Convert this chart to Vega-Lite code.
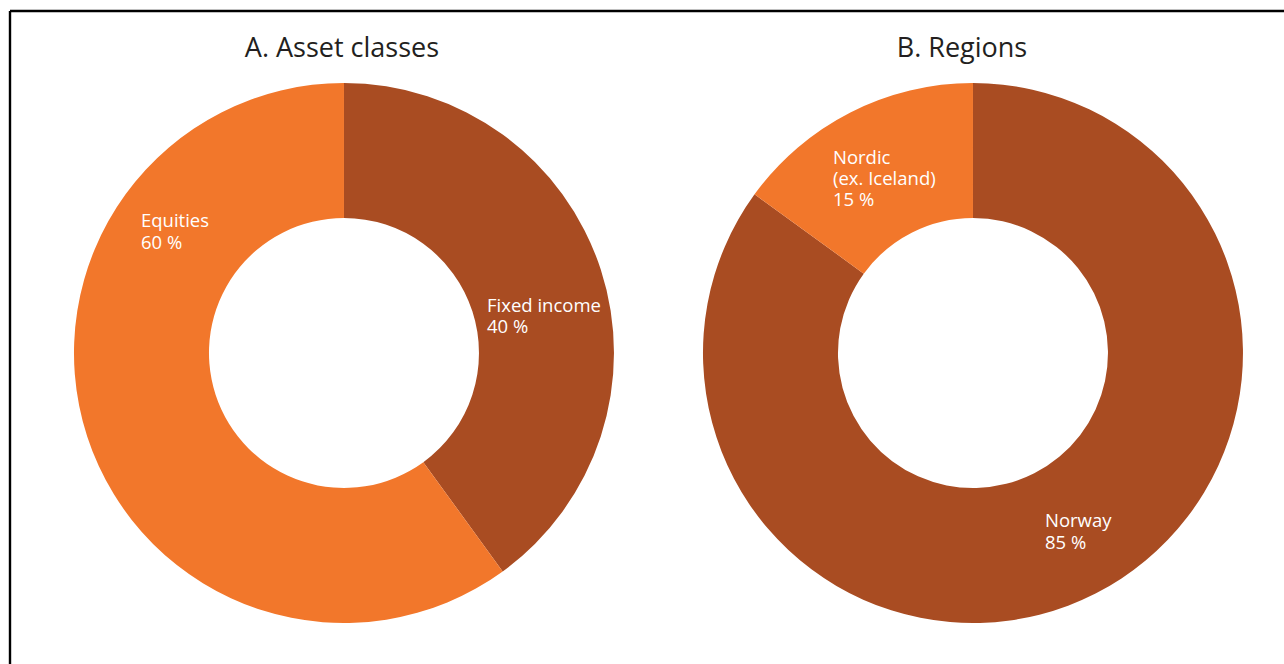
{
  "$schema": "https://vega.github.io/schema/vega-lite/v6.json",
  "width": 1274,
  "height": 653,
  "autosize": {"type": "none"},
  "padding": {"left": 10, "top": 11, "right": 0, "bottom": 0},
  "background": "white",
  "config": {"view": {"stroke": null}, "text": {"font": "Open Sans"}},
  "data": {"values": [
    {"panel": "A", "title": "A. Asset classes", "name": "Fixed income", "label": "Fixed income\n40 %", "value": 40, "ord": 1},
    {"panel": "A", "title": "A. Asset classes", "name": "Equities", "label": "Equities\n60 %", "value": 60, "ord": 2},
    {"panel": "B", "title": "B. Regions", "name": "Norway", "label": "Norway\n85 %", "value": 85, "ord": 1},
    {"panel": "B", "title": "B. Regions", "name": "Nordic", "label": "Nordic\n(ex. Iceland)\n15 %", "value": 15, "ord": 2}
  ]},
  "layer": [
    {
      "encoding": {
        "x": {"field": "panel", "type": "nominal", "scale": {"type": "point", "padding": 0.51272, "align": 0.5178}, "axis": null},
        "y": {"datum": "c", "type": "nominal", "scale": {"type": "point", "align": 0.5237}, "axis": null}
      },
      "layer": [
        {
          "transform": [{"stack": "value", "groupby": ["panel"], "sort": [{"field": "ord", "order": "ascending"}], "as": ["t0", "t1"]}],
          "mark": {"type": "arc", "outerRadius": 270, "innerRadius": 135},
          "encoding": {
            "theta": {"field": "t0", "type": "quantitative", "stack": null, "scale": {"domain": [0, 100]}},
            "theta2": {"field": "t1"},
            "color": {"field": "name", "type": "nominal", "scale": {"domain": ["Fixed income", "Equities", "Norway", "Nordic"], "range": ["#A94C22", "#F2772B", "#A94C22", "#F2772B"]}, "legend": null}
          }
        },
        {
          "transform": [{"filter": "datum.name === 'Fixed income'"}],
          "mark": {"type": "text", "align": "center", "baseline": "alphabetic", "fontSize": 27, "color": "#231F20", "dx": -2, "dy": -296},
          "encoding": {"text": {"field": "title"}}
        },
        {
          "transform": [{"filter": "datum.name === 'Norway'"}],
          "mark": {"type": "text", "align": "center", "baseline": "alphabetic", "fontSize": 27, "color": "#231F20", "dx": -11, "dy": -296},
          "encoding": {"text": {"field": "title"}}
        },
        {
          "transform": [{"filter": "datum.name === 'Equities'"}],
          "mark": {"type": "text", "align": "left", "baseline": "alphabetic", "fontSize": 18.5, "lineHeight": 22, "lineBreak": "\n", "color": "white", "dx": -203, "dy": -126},
          "encoding": {"text": {"field": "label"}}
        },
        {
          "transform": [{"filter": "datum.name === 'Fixed income'"}],
          "mark": {"type": "text", "align": "left", "baseline": "alphabetic", "fontSize": 18.5, "lineHeight": 21.5, "lineBreak": "\n", "color": "white", "dx": 143, "dy": -41},
          "encoding": {"text": {"field": "label"}}
        },
        {
          "transform": [{"filter": "datum.name === 'Nordic'"}],
          "mark": {"type": "text", "align": "left", "baseline": "alphabetic", "fontSize": 18.5, "lineHeight": 21, "lineBreak": "\n", "color": "white", "dx": -140, "dy": -189},
          "encoding": {"text": {"field": "label"}}
        },
        {
          "transform": [{"filter": "datum.name === 'Norway'"}],
          "mark": {"type": "text", "align": "left", "baseline": "alphabetic", "fontSize": 18.5, "lineHeight": 22, "lineBreak": "\n", "color": "white", "dx": 72, "dy": 174},
          "encoding": {"text": {"field": "label"}}
        }
      ]
    },
    {
      "data": {"values": [{}]},
      "mark": {"type": "rule", "color": "black", "strokeWidth": 2.4},
      "encoding": {"y": {"value": 0}}
    },
    {
      "data": {"values": [{}]},
      "mark": {"type": "rule", "color": "black", "strokeWidth": 2.4},
      "encoding": {"x": {"value": 0}}
    }
  ]
}
